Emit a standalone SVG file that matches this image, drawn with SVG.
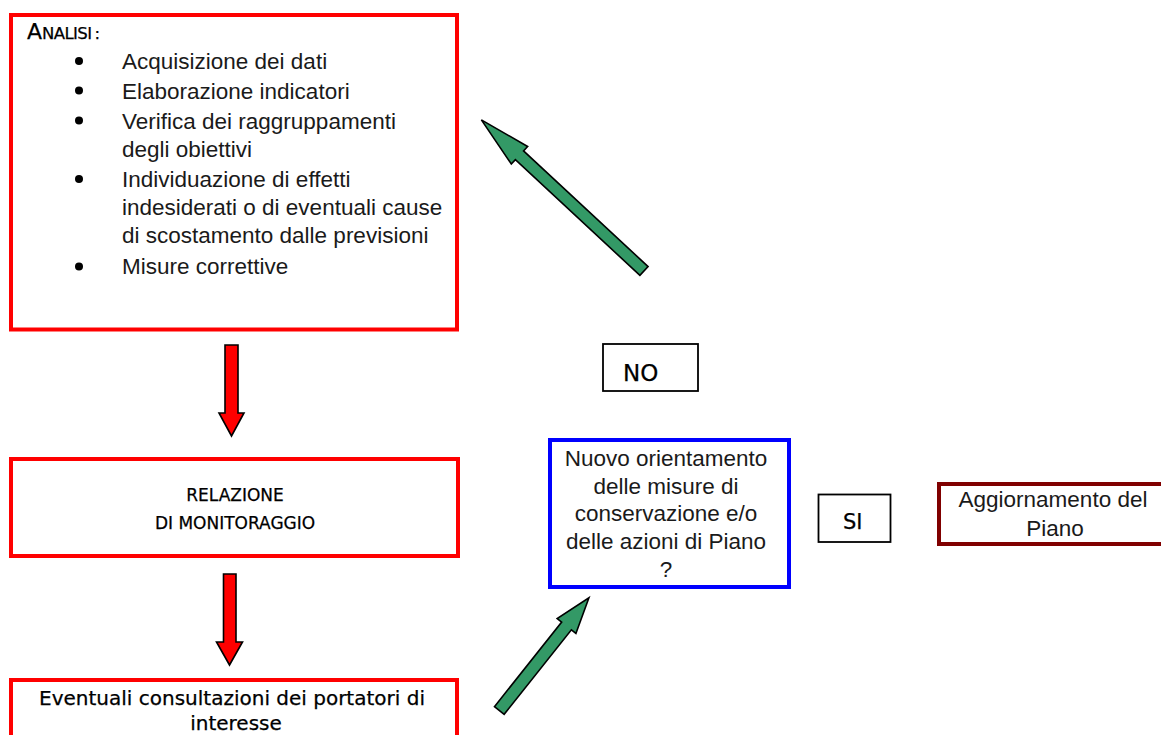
<svg xmlns="http://www.w3.org/2000/svg" width="1161" height="735" viewBox="0 0 1161 735">
<style>
.light{font-family:"Liberation Sans",Arial,sans-serif;font-size:22.5px;fill:#1a1a1a}
.med{font-family:"DejaVu Sans","Liberation Sans",sans-serif;fill:#000;stroke:#000;stroke-width:0.25}
.redbox{fill:#fff;stroke:#ff0000;stroke-width:4}
.blackbox{fill:#fff;stroke:#000;stroke-width:1.8}
.redarrow{fill:#ff0000;stroke:#000;stroke-width:1.6;stroke-linejoin:miter}
.greenarrow{fill:#339966;stroke:#000;stroke-width:1.6;stroke-linejoin:miter}
</style>
<rect width="1161" height="735" fill="#fff"/>

<g id="analisi">
<rect class="redbox" x="11" y="15" width="446" height="314.5"/>
<text class="med" x="27" y="39"><tspan font-size="22">A</tspan><tspan font-size="16.5" letter-spacing="-0.6">NALISI</tspan><tspan font-size="16.5" dx="3">:</tspan></text>
<g fill="#000">
<circle cx="79" cy="61" r="4"/>
<circle cx="79" cy="90.5" r="4"/>
<circle cx="79" cy="120.5" r="4"/>
<circle cx="79" cy="179" r="4"/>
<circle cx="79" cy="266.5" r="4"/>
</g>
<text class="light" x="122" y="69">Acquisizione dei dati</text>
<text class="light" x="122" y="99">Elaborazione indicatori</text>
<text class="light" x="122" y="128.5">Verifica dei raggruppamenti</text>
<text class="light" x="122" y="156.5">degli obiettivi</text>
<text class="light" x="122" y="186.5">Individuazione di effetti</text>
<text class="light" x="122" y="215">indesiderati o di eventuali cause</text>
<text class="light" x="122" y="243">di scostamento dalle previsioni</text>
<text class="light" x="122" y="274">Misure correttive</text>
</g>

<g id="relazione">
<rect class="redbox" x="11" y="459" width="447" height="97"/>
<text class="med" font-size="17" text-anchor="middle" x="235" y="500.5">RELAZIONE</text>
<text class="med" font-size="17" text-anchor="middle" x="235" y="529">DI MONITORAGGIO</text>
</g>

<g id="consultazioni">
<rect class="redbox" x="11" y="680" width="446" height="80"/>
<text class="med" font-size="20" text-anchor="middle" x="232" y="705">Eventuali consultazioni dei portatori di</text>
<text class="med" font-size="20" text-anchor="middle" x="236" y="730">interesse</text>
</g>

<g id="no">
<rect class="blackbox" x="603" y="344" width="95" height="47"/>
<text class="med" font-size="23" x="623" y="380.5">NO</text>
</g>

<g id="nuovo">
<rect x="550" y="440" width="239" height="147" fill="#fff" stroke="#0000ff" stroke-width="4"/>
<text class="light" text-anchor="middle" x="666" y="466">Nuovo orientamento</text>
<text class="light" text-anchor="middle" x="666" y="493.5">delle misure di</text>
<text class="light" text-anchor="middle" x="666" y="521">conservazione e/o</text>
<text class="light" text-anchor="middle" x="666" y="549">delle azioni di Piano</text>
<text class="light" text-anchor="middle" x="666" y="576.5">?</text>
</g>

<g id="si">
<rect class="blackbox" x="818.5" y="494.5" width="72" height="47.5"/>
<text class="med" font-size="21" x="843" y="528.5">SI</text>
</g>

<g id="aggiornamento">
<rect x="939" y="484" width="240" height="60" fill="#fff" stroke="#800000" stroke-width="4"/>
<text class="light" text-anchor="middle" x="1053" y="507">Aggiornamento del</text>
<text class="light" text-anchor="middle" x="1055" y="536">Piano</text>
</g>

<g id="connectors">
<path class="redarrow" d="M225,345 H238 V413 H244 L231.5,436 L219,413 H225 Z"/>
<path class="redarrow" d="M223.5,574 H236 V642 H242.5 L229.5,665 L216.5,642 H223.5 Z"/>
<path class="greenarrow" transform="translate(644,271) rotate(-137.1)" d="M0,-6 H170 V-12 L222,0 L170,12 V6 H0 Z"/>
<path class="greenarrow" transform="translate(499.3,710.5) rotate(-51.5)" d="M0,-6.2 H108 V-12 L144,0 L108,12 V6.2 H0 Z"/>
</g>
</svg>
